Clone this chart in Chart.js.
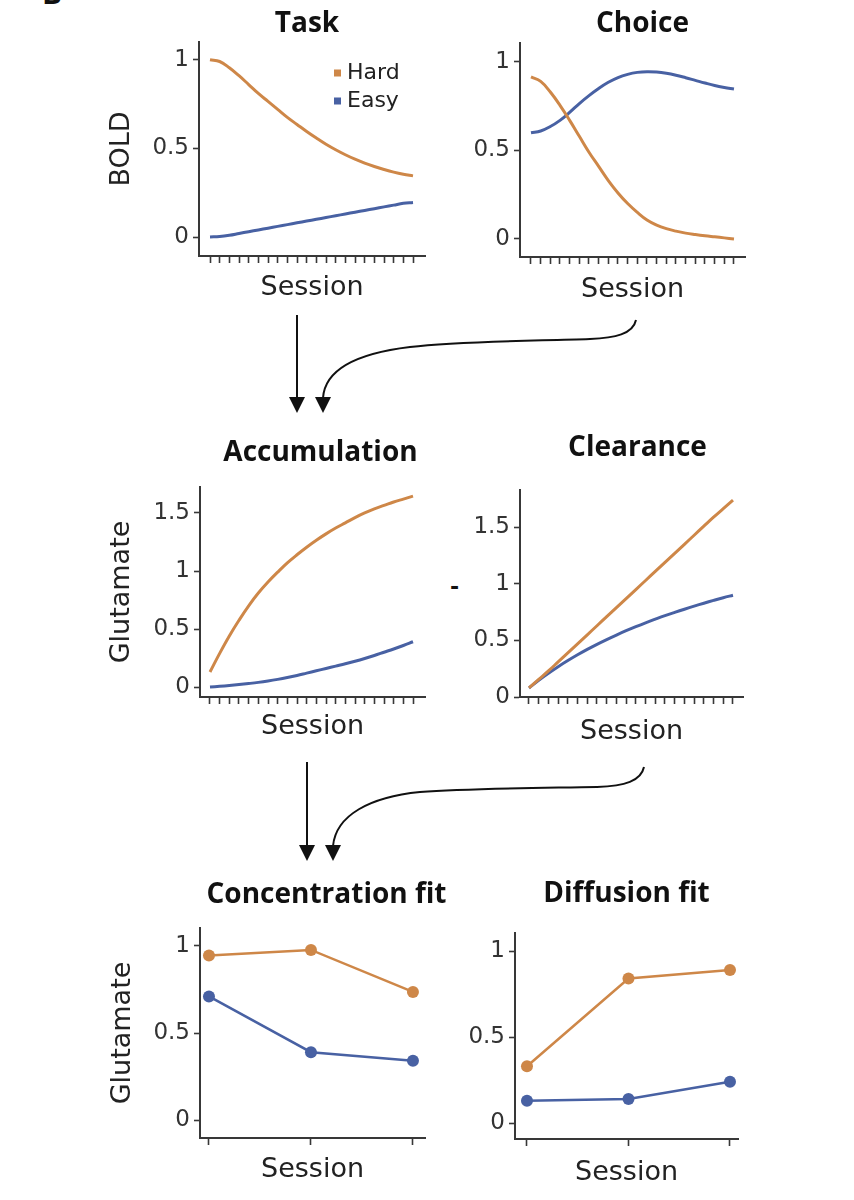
<!DOCTYPE html>
<html>
<head>
<meta charset="utf-8">
<script src="https://cdn.jsdelivr.net/npm/chart.js@4.4.1/dist/chart.umd.min.js"></script>
<style>
  body { margin: 0; background: #fff; }
  #page { position: relative; width: 854px; height: 1200px; overflow: hidden; font-family: "DejaVu Sans", sans-serif; }
  .panel { position: absolute; }
  .mark { position: absolute; color: #111; }
  svg { position: absolute; left: 0; top: 0; }
</style>
</head>
<body>
<div id="page">
  <div class="mark" style="left:42px; top:-28px; font: bold 30px 'Open Sans';">B</div>
  <div class="mark" style="left:450px; top:574px; font: bold 22px 'DejaVu Sans';">-</div>
  <svg width="854" height="1200">
    <g fill="none" stroke="#111" stroke-width="2">
      <path d="M297,315 L297,398"/>
      <path d="M636,320 C633,334 615,338 590,339 C530,341 460,341 410,347 C360,353 325,368 323,398"/>
      <path d="M307,762 L307,846"/>
      <path d="M644,767 C641,781 625,786 597,787 C540,788 470,788 420,792 C370,797 336,815 333,846"/>
    </g>
    <g fill="#111">
      <polygon points="289,397 305,397 297,413"/>
      <polygon points="315,397 331,397 323,413"/>
      <polygon points="299,845 315,845 307,861"/>
      <polygon points="325,845 341,845 333,861"/>
    </g>
  </svg>
</div>
<script>
// sessions on the x axis
const sessions = [1, 2, 3, 4, 5, 6, 7, 8, 9, 10, 11, 12, 13, 14, 15, 16, 17, 18, 19, 20, 21, 22];
const fitSessions = [1, 2, 3];

// tick labels
const boldTicks = [0, 0.5, 1];
const gluTicks = [0, 0.5, 1, 1.5];

// BOLD, task
const taskHard = [1.0, 0.99, 0.955, 0.91, 0.86, 0.81, 0.765, 0.72, 0.675, 0.635, 0.595, 0.558, 0.523, 0.492, 0.464, 0.439, 0.417, 0.398, 0.381, 0.366, 0.354, 0.345];
const taskEasy = [0.0, 0.003, 0.01, 0.02, 0.03, 0.04, 0.05, 0.06, 0.07, 0.08, 0.09, 0.10, 0.11, 0.12, 0.13, 0.14, 0.15, 0.16, 0.17, 0.18, 0.19, 0.195];

// BOLD, choice
const choiceHard = [0.915, 0.89, 0.83, 0.755, 0.67, 0.58, 0.49, 0.41, 0.33, 0.26, 0.20, 0.15, 0.107, 0.078, 0.058, 0.044, 0.033, 0.025, 0.018, 0.012, 0.006, 0.0];
const choiceEasy = [0.60, 0.61, 0.635, 0.67, 0.715, 0.765, 0.81, 0.85, 0.885, 0.912, 0.93, 0.941, 0.945, 0.943, 0.936, 0.925, 0.911, 0.896, 0.881, 0.867, 0.856, 0.847];

// glutamate, accumulation
const accumHard = [0.13, 0.29, 0.44, 0.575, 0.70, 0.81, 0.905, 0.99, 1.07, 1.14, 1.205, 1.265, 1.32, 1.37, 1.415, 1.46, 1.50, 1.535, 1.565, 1.595, 1.62, 1.645];
const accumEasy = [0.0, 0.006, 0.013, 0.021, 0.03, 0.04, 0.052, 0.066, 0.082, 0.10, 0.12, 0.14, 0.16, 0.18, 0.20, 0.222, 0.246, 0.272, 0.30, 0.328, 0.358, 0.39];

// glutamate, clearance
const clearHard = [0.08, 0.155, 0.23, 0.31, 0.39, 0.47, 0.55, 0.63, 0.71, 0.79, 0.87, 0.95, 1.03, 1.11, 1.19, 1.27, 1.35, 1.43, 1.51, 1.59, 1.665, 1.74];
const clearEasy = [0.08, 0.148, 0.21, 0.268, 0.322, 0.373, 0.421, 0.466, 0.508, 0.548, 0.586, 0.622, 0.656, 0.688, 0.719, 0.748, 0.776, 0.803, 0.829, 0.854, 0.878, 0.90];

// model fits
const concHard = [0.945, 0.977, 0.736];
const concEasy = [0.71, 0.39, 0.34];
const diffHard = [0.33, 0.84, 0.89];
const diffEasy = [0.13, 0.14, 0.24];

const HARD = '#CE8748';
const EASY = '#4861A3';
const AXIS = '#383838';
const TXT = '#222';

const panelTitle = {
  id: 'panelTitle',
  afterDraw(chart, args, opts) {
    const { ctx, chartArea } = chart;
    ctx.save();
    ctx.font = 'bold 28px "Open Sans"';
    ctx.fillStyle = '#111';
    ctx.textAlign = 'center';
    ctx.textBaseline = 'middle';
    ctx.fillText(opts.text, (chartArea.left + chartArea.right) / 2 + opts.dx, opts.y);
    ctx.restore();
  }
};

// little square-swatch legend, only on the Task panel
const swatchLegend = {
  id: 'swatchLegend',
  afterDraw(chart, args, opts) {
    if (!opts.show) return;
    const { ctx, chartArea } = chart;
    ctx.save();
    ctx.font = '22px "DejaVu Sans"';
    ctx.textBaseline = 'middle';
    chart.data.datasets.forEach((ds, i) => {
      const y = chartArea.top + 31 + i * 28;
      ctx.fillStyle = ds.borderColor;
      ctx.fillRect(chartArea.right - 91, y - 3.5, 7, 7);
      ctx.fillStyle = TXT;
      ctx.fillText(ds.label, chartArea.right - 78, y);
    });
    ctx.restore();
  }
};

function series(xs, ys) {
  return xs.map((x, i) => ({ x: x, y: ys[i] }));
}

function makePanel(p) {
  const div = document.createElement('div');
  div.className = 'panel';
  div.style.left = p.box[0] + 'px';
  div.style.top = p.box[1] + 'px';
  div.style.width = p.box[2] + 'px';
  div.style.height = p.box[3] + 'px';
  const canvas = document.createElement('canvas');
  div.appendChild(canvas);
  document.getElementById('page').appendChild(div);

  const dots = p.xs.length < 5;
  const ds = (label, ys, color) => ({
    label: label,
    data: series(p.xs, ys),
    borderColor: color,
    backgroundColor: color,
    borderWidth: dots ? 2.5 : 3,
    pointRadius: dots ? 6 : 0,
    pointBorderWidth: 0,
    cubicInterpolationMode: 'default',
    tension: dots ? 0 : 0.4
  });

  new Chart(canvas, {
    type: 'line',
    data: { datasets: [ds('Hard', p.hard, HARD), ds('Easy', p.easy, EASY)] },
    options: {
      responsive: true,
      maintainAspectRatio: false,
      animation: false,
      events: [],
      layout: { padding: { top: p.pad[0], right: p.pad[1], bottom: 0, left: 0 } },
      plugins: {
        legend: { display: false },
        tooltip: { enabled: false },
        panelTitle: { text: p.title, dx: p.titlePos[0], y: p.titlePos[1] },
        swatchLegend: { show: !!p.legend }
      },
      scales: {
        x: {
          type: 'linear',
          min: p.xRange[0],
          max: p.xRange[1],
          afterBuildTicks: s => { s.ticks = p.xs.map(v => ({ value: v })); },
          afterFit: s => { s.height = p.xh; },
          ticks: { callback: () => '', padding: 0 },
          grid: { drawOnChartArea: false, drawTicks: true, tickLength: 7, tickWidth: 1.6, tickColor: AXIS },
          border: { display: true, color: AXIS, width: 2 },
          title: {
            display: true, text: 'Session', color: TXT,
            font: { family: 'DejaVu Sans', size: 27 },
            padding: { top: 0, bottom: p.xTitlePad }
          }
        },
        y: {
          min: p.yRange[0],
          max: p.yRange[1],
          afterBuildTicks: s => { s.ticks = p.yTicks.map(v => ({ value: v })); },
          afterFit: s => { s.width = p.yw; },
          ticks: { callback: v => String(v), color: '#333', font: { family: 'DejaVu Sans', size: 23 }, padding: 4 },
          grid: { drawOnChartArea: false, drawTicks: true, tickLength: 6, tickWidth: 1.6, tickColor: AXIS },
          border: { display: true, color: AXIS, width: 2 },
          title: {
            display: !!p.yTitle, text: p.yTitle || '', color: TXT,
            font: { family: 'DejaVu Sans', size: 27 },
            padding: { top: p.yTitlePad || 0, bottom: 0 }
          }
        }
      }
    },
    plugins: [panelTitle, swatchLegend]
  });
}

makePanel({ box: [95, 0, 370, 315], pad: [42, 40], yw: 104, xh: 59,
  xs: sessions, xRange: [-0.138, 23.24], yRange: [-0.107, 1.10], yTicks: boldTicks,
  hard: taskHard, easy: taskEasy, title: 'Task', titlePos: [-5, 24],
  yTitle: 'BOLD', yTitlePad: 11, xTitlePad: 11, legend: true });

makePanel({ box: [440, 0, 330, 315], pad: [43, 25], yw: 80, xh: 58,
  xs: sessions, xRange: [-0.138, 23.14], yRange: [-0.102, 1.107], yTicks: boldTicks,
  hard: choiceHard, easy: choiceEasy, title: 'Choice', titlePos: [10, 24], xTitlePad: 9 });

makePanel({ box: [95, 425, 370, 335], pad: [62, 40], yw: 105, xh: 63,
  xs: sessions, xRange: [-0.034, 23.24], yRange: [-0.086, 1.724], yTicks: gluTicks,
  hard: accumHard, easy: accumEasy, title: 'Accumulation', titlePos: [8, 28],
  yTitle: 'Glutamate', yTitlePad: 11, xTitlePad: 17 });

makePanel({ box: [440, 425, 330, 335], pad: [65, 27], yw: 80, xh: 63,
  xs: sessions, xRange: [0.074, 23.03], yRange: [0, 1.83], yTicks: gluTicks,
  hard: clearHard, easy: clearEasy, title: 'Clearance', titlePos: [6, 23], xTitlePad: 12 });

makePanel({ box: [95, 868, 370, 332], pad: [60, 40], yw: 105, xh: 62,
  xs: fitSessions, xRange: [0.912, 3.118], yRange: [-0.103, 1.103], yTicks: boldTicks,
  hard: concHard, easy: concEasy, title: 'Concentration fit', titlePos: [14, 27],
  yTitle: 'Glutamate', yTitlePad: 12, xTitlePad: 14 });

makePanel({ box: [440, 868, 330, 332], pad: [65, 32], yw: 75, xh: 61,
  xs: fitSessions, xRange: [0.882, 3.079], yRange: [-0.093, 1.105], yTicks: boldTicks,
  hard: diffHard, easy: diffEasy, title: 'Diffusion fit', titlePos: [0, 26], xTitlePad: 11 });
</script>
</body>
</html>
